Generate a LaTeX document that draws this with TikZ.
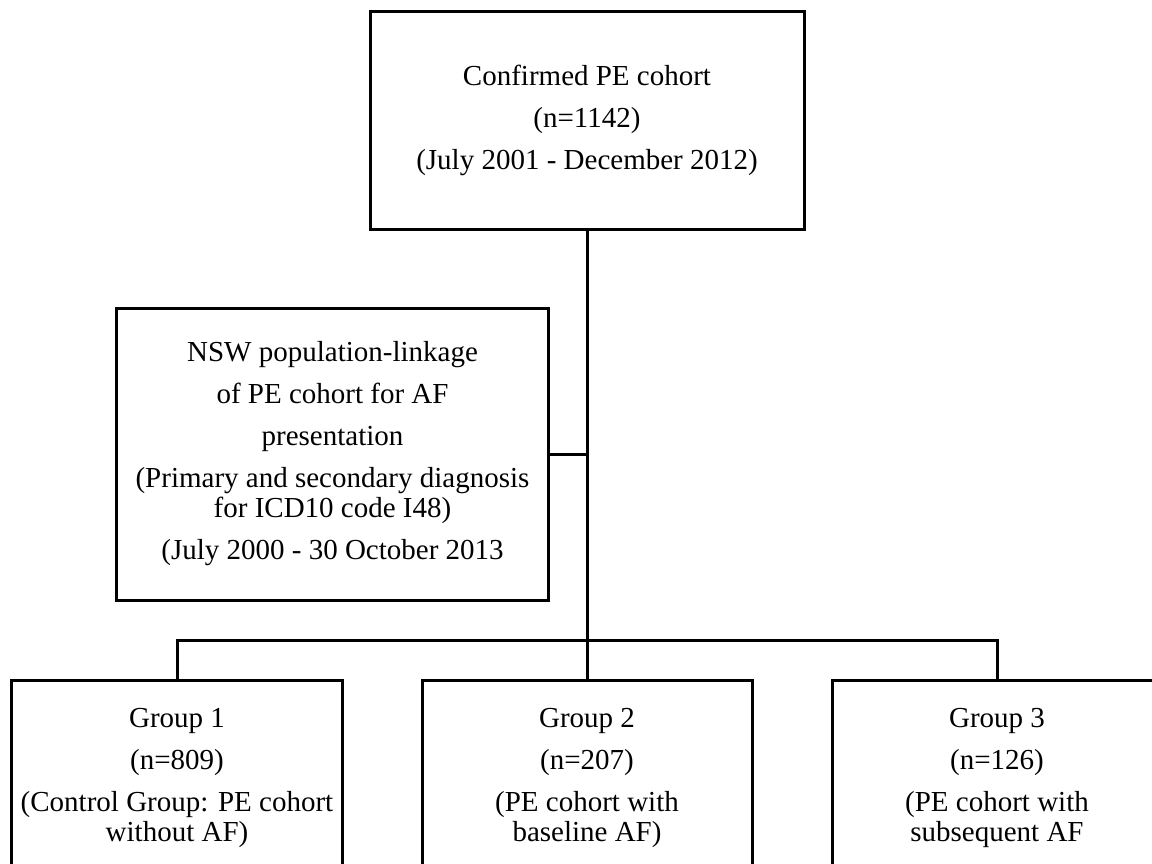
\documentclass[tikz,border=0pt]{standalone}
\usepackage{fontspec}
\setmainfont{Liberation Serif}
\tikzset{flowbox/.style={draw,rectangle,line width=1.2pt,align=center,inner sep=0pt,font=\fontsize{11.6}{12}\selectfont},
groupbox/.style={flowbox,anchor=north,minimum width=132pt,inner ysep=11.2pt},
flowline/.style={line width=1.2pt}}
\newcommand{\gap}{\\[4.8pt]}

\begin{document}
\begin{tikzpicture}[x=0.4pt,y=-0.4pt]
\path[use as bounding box,clip] (0,0) rectangle (1152,863);
\node[flowbox,minimum width=173.6pt,minimum height=87.2pt] (cohort) at (587,120)
  {Confirmed PE cohort\gap(n=1142)\gap(July 2001 - December 2012)};
\node[flowbox,minimum width=172.4pt,minimum height=116.8pt] (linkage) at (332.5,454)
  {NSW population-linkage\gap of PE cohort for AF\gap presentation\gap(Primary and secondary diagnosis\\for ICD10 code I48)\gap(July 2000 - 30 October 2013};
\node[groupbox] (group1) at (177,679) {Group 1\gap(n=809)\gap(Control Group: PE cohort\\without AF)};
\node[groupbox] (group2) at (587,679) {Group 2\gap(n=207)\gap(PE cohort with\\baseline AF)};
\node[groupbox] (group3) at (997,679) {Group 3\gap(n=126)\gap(PE cohort with\\subsequent AF};
\coordinate (bus) at (group2.north |- 0,640);
\draw[flowline] (cohort.south) -- (bus);
\draw[flowline] (linkage.east) -- (linkage.east -| cohort.south);
\draw[flowline] (group1.north) |- (bus) -| (group3.north);
\draw[flowline] (bus) -- (group2.north);
\end{tikzpicture}
\end{document}
